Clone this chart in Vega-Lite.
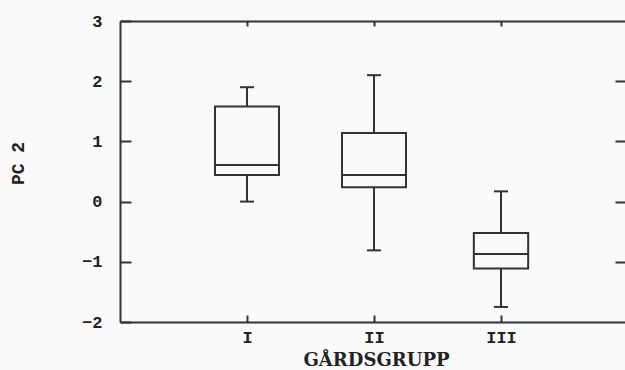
{
  "$schema": "https://vega.github.io/schema/vega-lite/v6.json",
  "width": 505,
  "height": 301,
  "autosize": {"type": "none"},
  "padding": {"left": 120, "top": 21, "right": 0, "bottom": 48},
  "background": "#fafafa",
  "config": {
    "view": {"stroke": null},
    "axis": {
      "grid": false,
      "domainColor": "#333333",
      "domainWidth": 2,
      "tickColor": "#333333",
      "tickWidth": 2,
      "labelColor": "#222222",
      "labelFont": "Liberation Mono",
      "labelFontWeight": "bold",
      "labelFontSize": 17,
      "titleColor": "#222222"
    }
  },
  "data": {
    "values": [
      {"group": "I", "lower": 0.0, "q1": 0.44, "median": 0.61, "q3": 1.58, "upper": 1.9, "n": 25},
      {"group": "II", "lower": -0.81, "q1": 0.24, "median": 0.44, "q3": 1.14, "upper": 2.1, "n": 25},
      {"group": "III", "lower": -1.75, "q1": -1.11, "median": -0.87, "q3": -0.52, "upper": 0.17, "n": 18}
    ]
  },
  "layer": [
    {
      "mark": {"type": "rule", "color": "#333333", "strokeWidth": 2},
      "encoding": {
        "x": {
          "field": "group", "type": "nominal", "sort": ["I", "II", "III"],
          "scale": {"type": "point", "padding": 1, "range": [0, 508]},
          "axis": {
            "orient": "bottom", "tickSize": -7, "labelPadding": 14, "labelAngle": 0,
            "labelFontSize": 17,
            "title": "GÅRDSGRUPP", "titleFont": "DejaVu Serif", "titleFontWeight": "bold",
            "titleFontSize": 18, "titleX": 256, "titleY": 43, "titleBaseline": "alphabetic",
            "titleAlign": "center"
          }
        },
        "y": {
          "field": "lower", "type": "quantitative",
          "scale": {"domain": [-2, 3], "nice": false, "zero": false},
          "axis": {
            "orient": "left", "values": [-2, -1, 0, 1, 2, 3], "format": "d",
            "tickSize": -11, "labelPadding": 29,
            "title": "PC 2", "titleFont": "Liberation Mono", "titleFontWeight": "bold",
            "titleFontSize": 18, "titleAngle": -90, "titleX": -102, "titleY": 142,
            "titleAlign": "center", "titleBaseline": "middle"
          }
        },
        "y2": {"field": "upper"}
      }
    },
    {
      "mark": {"type": "bar", "fill": "#fafafa", "stroke": "#333333", "strokeWidth": 2},
      "encoding": {
        "x": {"field": "group", "type": "nominal", "sort": ["I", "II", "III"], "axis": null},
        "y": {"field": "q1", "type": "quantitative", "axis": null},
        "y2": {"field": "q3"},
        "size": {
          "field": "n", "type": "quantitative", "legend": null,
          "scale": {"type": "sqrt", "domain": [0, 25], "range": [0, 64]}
        }
      }
    },
    {
      "mark": {"type": "tick", "color": "#333333", "thickness": 2, "opacity": 1},
      "encoding": {
        "x": {"field": "group", "type": "nominal", "sort": ["I", "II", "III"], "axis": null},
        "y": {"field": "median", "type": "quantitative", "axis": null},
        "size": {"field": "n", "type": "quantitative", "legend": null}
      }
    },
    {
      "mark": {"type": "tick", "color": "#333333", "thickness": 2, "size": 14, "opacity": 1},
      "encoding": {
        "x": {"field": "group", "type": "nominal", "sort": ["I", "II", "III"], "axis": null},
        "y": {"field": "upper", "type": "quantitative", "axis": null}
      }
    },
    {
      "mark": {"type": "tick", "color": "#333333", "thickness": 2, "size": 14, "opacity": 1},
      "encoding": {
        "x": {
          "field": "group", "type": "nominal", "sort": ["I", "II", "III"],
          "axis": {"orient": "top", "labels": false, "title": null, "tickSize": -5, "domain": true}
        },
        "y": {
          "field": "lower", "type": "quantitative",
          "axis": {"orient": "right", "labels": false, "title": null, "tickSize": -10, "domain": false, "values": [-1, 0, 1, 2]}
        }
      }
    }
  ],
  "resolve": {"axis": {"x": "independent", "y": "independent"}}
}
